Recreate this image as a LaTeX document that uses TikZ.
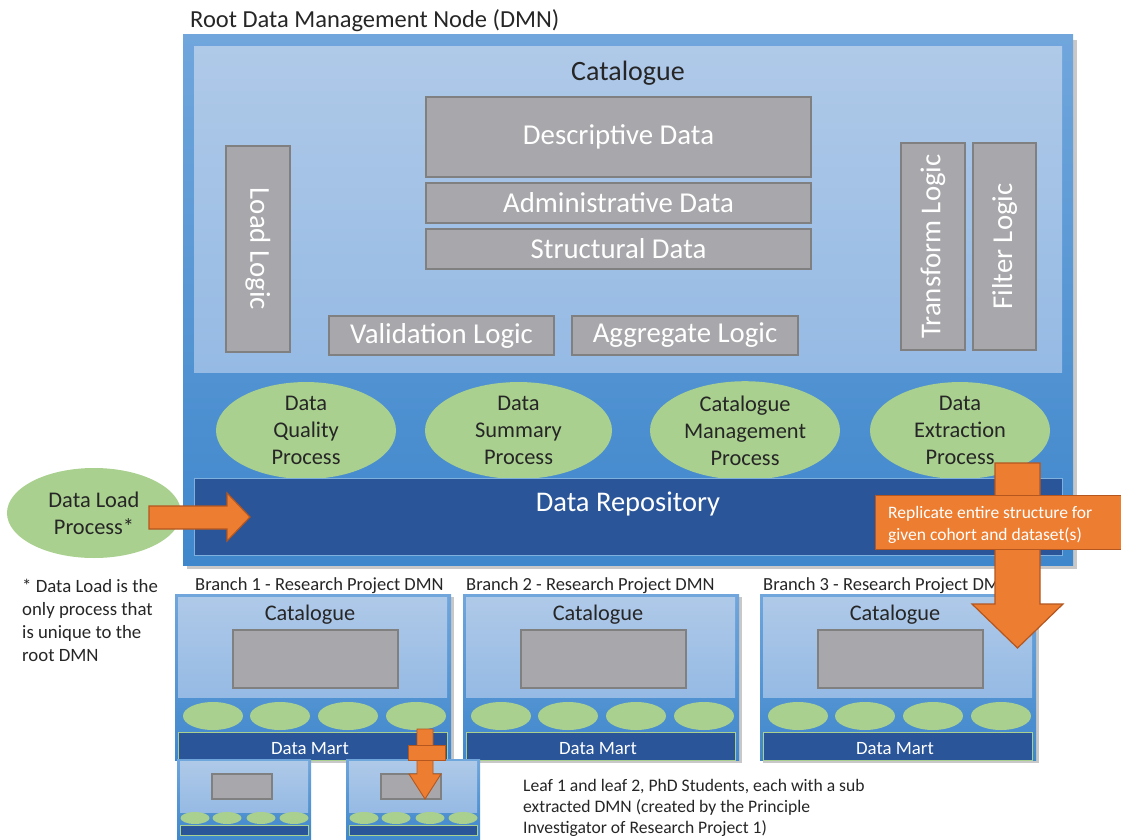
\documentclass[tikz,border=0pt]{standalone}
\usepackage{fontspec}
\setmainfont{Carlito}
\usetikzlibrary{shapes.geometric}

\definecolor{frametop}{HTML}{70A6DC}
\definecolor{framebot}{HTML}{3F87CC}
\definecolor{catlight}{HTML}{AFC9E8}
\definecolor{catdark}{HTML}{95BAE4}
\definecolor{bandblue}{HTML}{4A8FD0}
\definecolor{repoblue}{HTML}{2A5599}
\definecolor{boxgray}{HTML}{A8A8AC}
\definecolor{boxline}{HTML}{808080}
\definecolor{procgreen}{HTML}{A9D08E}
\definecolor{arroworange}{HTML}{ED7D31}
\definecolor{arrowline}{HTML}{B4561E}
\definecolor{shadowgray}{HTML}{C8C8C8}
\definecolor{inktext}{HTML}{262626}

\tikzset{
  graybox/.style={draw=boxline, fill=boxgray, line width=1.5pt, text=white, inner sep=0pt,
    font=\fontsize{28.8}{32}\selectfont},
  procell/.style={ellipse, fill=procgreen, inner sep=0pt, align=center, text=inktext,
    font=\fontsize{22.4}{27}\selectfont},
  smallell/.style={ellipse, fill=procgreen, inner sep=0pt},
  blockarrow/.style={fill=arroworange, draw=arrowline, line width=1.2pt},
  caption/.style={text=inktext, inner sep=0pt, anchor=west},
}

\begin{document}
\begin{tikzpicture}[x=1pt, y=-1pt]
\useasboundingbox (0,0) rectangle (1121,840);

% root DMN
\node[caption, font=\fontsize{24.5}{28}\selectfont] (roottitle) at (190,21) {Root Data Management Node (DMN)};
\fill[shadowgray] (187,40) rectangle (1077,569);
\shade[top color=frametop, bottom color=framebot] (183,35) rectangle (1073,565);
\shade[top color=catlight, bottom color=catdark] (194,47) rectangle (1062,372);
\node[text=inktext, font=\fontsize{28}{32}\selectfont] (cat) at (628,73) {Catalogue};

\node[graybox, minimum width=385pt, minimum height=80pt] (desc) at (618.5,137) {Descriptive Data};
\node[graybox, minimum width=385pt, minimum height=40pt] (admin) at (618.5,203) {Administrative Data};
\node[graybox, minimum width=385pt, minimum height=40pt] (struct) at (618.5,249) {Structural Data};
\node[graybox, minimum width=225pt, minimum height=39pt] (valid) at (441.5,335.5) {Validation Logic};
\node[graybox, minimum width=226pt, minimum height=39pt] (aggr) at (685,335.5) {Aggregate Logic};
\node[graybox, rotate=-90, minimum width=206pt, minimum height=64pt] (load) at (258,249) {Load Logic};
\node[graybox, rotate=90, minimum width=207pt, minimum height=64pt] (transf) at (933,246.5) {Transform Logic};
\node[graybox, rotate=90, minimum width=207pt, minimum height=63pt] (filt) at (1004.5,246.5) {Filter Logic};

% processes
\node[procell, minimum width=180pt, minimum height=88pt] (quality) at (306,430.5) {Data\\Quality\\Process};
\node[procell, minimum width=187pt, minimum height=88pt] (summary) at (518.5,430.5) {Data\\Summary\\Process};
\node[procell, minimum width=190pt, minimum height=88pt] (catman) at (745,430.5) {Catalogue\\Management\\Process};
\node[procell, minimum width=180pt, minimum height=88pt] (extract) at (960,430.5) {Data\\Extraction\\Process};

% repository
\fill[repoblue] (194,478) rectangle (1062,555);
\draw[bandblue!70!white, line width=0.8pt] (194,478) rectangle (1062,555);
\node[text=white, font=\fontsize{28.5}{32}\selectfont] (repo) at (628,504) {Data Repository};

% data load
\node[procell, minimum width=174pt, minimum height=90pt] (dataload) at (94,513) {Data Load\\Process*};
\draw[blockarrow] (149,506) -- (227,506) -- (227,493) -- (250,517) -- (227,541) -- (227,529) -- (149,529) -- cycle;
\node[caption, align=left, font=\fontsize{18.8}{23}\selectfont, anchor=west] (footnote) at (22,620.5)
  {* Data Load is the\\only process that\\is unique to the\\root DMN};

% branches
\foreach \bx/\n in {175/1,463/2,760/3}{
  \fill[shadowgray] (\bx+3,597) rectangle (\bx+279,763);
  \shade[top color=frametop, bottom color=framebot] (\bx,594) rectangle (\bx+276,760);
  \shade[top color=catlight, bottom color=catdark] (\bx+3,597) rectangle (\bx+272,697);
  \node[text=inktext, font=\fontsize{22.3}{26}\selectfont] (bcat\n) at (\bx+135,615) {Catalogue};
  \node[graybox, minimum width=165pt, minimum height=58pt] (bbox\n) at (\bx+140.5,659) {};
  \foreach \ex [count=\k] in {38,105,173,241}
    \node[smallell, minimum width=60pt, minimum height=28pt] (b\n e\k) at (\bx+\ex,716) {};
  \fill[repoblue] (\bx+3,732) rectangle (\bx+272,760);
  \draw[procgreen, line width=0.6pt] (\bx+3,732) rectangle (\bx+272,760);
  \node[text=white, font=\fontsize{18.8}{22}\selectfont] (mart\n) at (\bx+135,749) {Data Mart};
}
\node[caption, font=\fontsize{18.5}{22}\selectfont] (blab1) at (195,586) {Branch 1 - Research Project DMN};
\node[caption, font=\fontsize{18.5}{22}\selectfont] (blab2) at (466,586) {Branch 2 - Research Project DMN};
\node[caption, font=\fontsize{18.5}{22}\selectfont] (blab3) at (763,586) {Branch 3 - Research Project DMN};

% leaves
\foreach \lx/\n in {177/1,346/2}{
  \shade[top color=frametop, bottom color=framebot] (\lx,759) rectangle (\lx+134,840);
  \shade[top color=catlight, bottom color=catdark] (\lx+3,761) rectangle (\lx+131,812);
  \node[graybox, minimum width=60pt, minimum height=25pt] (lbox\n) at (\lx+65,786.5) {};
  \foreach \ex [count=\k] in {18,50,84,117}
    \node[smallell, minimum width=29pt, minimum height=12pt] (l\n e\k) at (\lx+\ex,818) {};
  \fill[repoblue] (\lx+3,825) rectangle (\lx+131,835);
  \draw[procgreen, line width=0.6pt] (\lx+3,825) rectangle (\lx+131,835);
}
\node[caption, align=left, font=\fontsize{17.6}{21}\selectfont, anchor=west] (leafnote) at (523,808)
  {Leaf 1 and leaf 2, PhD Students, each with a sub\\extracted DMN (created by the Principle\\Investigator of Research Project 1)};

% small extraction arrow
\draw[blockarrow, line width=0.9pt] (417,729) -- (433,729) -- (433,774) -- (441,774) -- (425,799) -- (409,774) -- (417,774) -- cycle;
\draw[blockarrow, line width=0.9pt] (408,745) rectangle (445,760);

% replicate arrow
\draw[blockarrow] (995,463) -- (1040,463) -- (1040,604) -- (1063,604) -- (1017.5,648) -- (972,604) -- (995,604) -- cycle;
\node[fill=arroworange, draw=arrowline, line width=1.2pt, minimum width=250pt, minimum height=54pt, anchor=north west] (repl) at (875,495) {};
\node[text=white, align=left, font=\fontsize{17.5}{22}\selectfont, anchor=west, inner sep=0pt] (repltxt) at (888,525)
  {Replicate entire structure for\\given cohort and dataset(s)};
\end{tikzpicture}
\end{document}
